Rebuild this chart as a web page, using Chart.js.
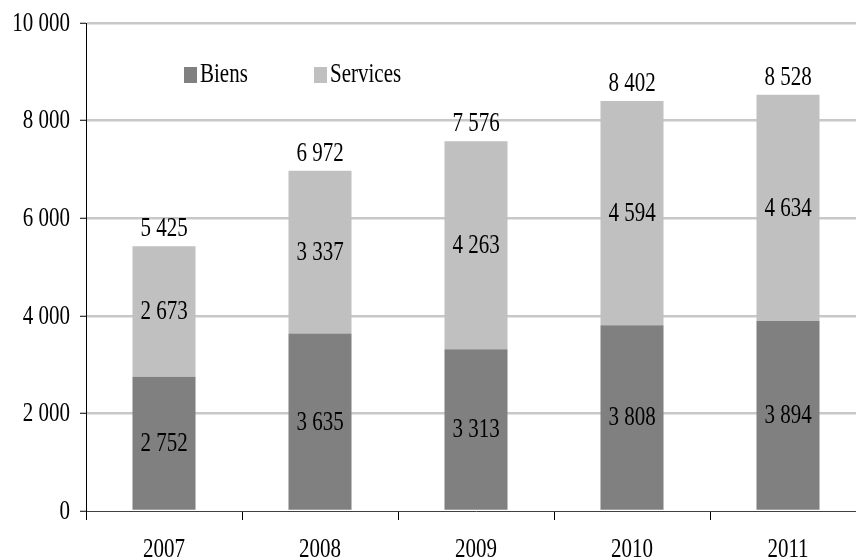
<!DOCTYPE html>
<html>
<head>
<meta charset="utf-8">
<script src="https://cdn.jsdelivr.net/npm/chart.js@4/dist/chart.umd.min.js"></script>
<style>
  html, body { margin: 0; padding: 0; background: #fff; overflow: hidden; }
  #wrap { width: 870px; height: 560px; }
</style>
</head>
<body>
<div id="wrap"><canvas id="chart" width="870" height="560"></canvas></div>
<script>
const years = ['2007', '2008', '2009', '2010', '2011'];
const biens = [2752, 3635, 3313, 3808, 3894];
const services = [2673, 3337, 4263, 4594, 4634];
const totals = [5425, 6972, 7576, 8402, 8528];
const yTicks = [0, 2000, 4000, 6000, 8000, 10000];

const FONT = 'Liberation Serif, "Times New Roman", serif';
const SIZE = 21;
const STRETCH = 1.25; // the reference text is taller than it is wide

// "5425" -> "5 425"
const fmt = v => String(v).replace(/\B(?=(\d{3})+(?!\d))/g, ' ');

function drawText(ctx, text, x, y, align) {
  ctx.save();
  ctx.translate(x, y);
  ctx.scale(1, STRETCH);
  ctx.font = SIZE + 'px ' + FONT;
  ctx.fillStyle = '#000';
  ctx.textAlign = align || 'center';
  ctx.textBaseline = 'middle';
  ctx.fillText(text, 0, 0);
  ctx.restore();
}

// all texts: tick labels, values in the segments, totals, legend
const textPlugin = {
  id: 'texts',
  afterDatasetsDraw(chart) {
    const ctx = chart.ctx;
    const xs = chart.scales.x, ys = chart.scales.y;

    ys.ticks.forEach(t => drawText(ctx, fmt(t.value), ys.right - 16, ys.getPixelForValue(t.value) + 1, 'right'));
    years.forEach((yr, i) => drawText(ctx, yr, xs.getPixelForValue(i), 550, 'center'));

    chart.data.datasets.forEach((ds, i) => {
      chart.getDatasetMeta(i).data.forEach((bar, j) => {
        drawText(ctx, fmt(ds.data[j]), bar.x, (bar.y + bar.base) / 2 + 1);
      });
    });
    const top = chart.getDatasetMeta(chart.data.datasets.length - 1).data;
    top.forEach((bar, j) => drawText(ctx, fmt(totals[j]), bar.x, bar.y - 17));

    // legend inside the plot area
    let x = 184;
    const y = 75;
    chart.data.datasets.forEach(ds => {
      ctx.fillStyle = ds.backgroundColor;
      ctx.fillRect(x, y - 8, 13, 16);
      drawText(ctx, ds.label, x + 16, y, 'left');
      x += 130;
    });
  }
};

new Chart(document.getElementById('chart'), {
  type: 'bar',
  data: {
    labels: years,
    datasets: [
      { label: 'Biens', data: biens, backgroundColor: '#808080' },
      { label: 'Services', data: services, backgroundColor: '#c0c0c0' }
    ]
  },
  options: {
    responsive: false,
    animation: false,
    events: [],
    layout: { padding: { left: 12, top: 23, right: 4, bottom: 0 } },
    plugins: {
      legend: { display: false },
      tooltip: { enabled: false }
    },
    datasets: {
      bar: { categoryPercentage: 1, barPercentage: 0.404 }
    },
    scales: {
      x: {
        stacked: true,
        offset: true,
        afterFit: axis => { axis.height = 49; },
        grid: {
          display: true,
          drawOnChartArea: false,
          tickLength: 9,
          offset: true,
          color: '#000'
        },
        border: { display: true, color: '#404040', width: 1 },
        ticks: { color: 'rgba(0,0,0,0)', font: { family: FONT, size: SIZE } }
      },
      y: {
        stacked: true,
        min: 0,
        max: 10000,
        afterBuildTicks: axis => { axis.ticks = yTicks.map(v => ({ value: v })); },
        afterFit: axis => { axis.width = 74; },
        grid: {
          color: c => (c.tick && c.tick.value === 0) ? 'rgba(0,0,0,0)' : '#c8c8c8',
          lineWidth: 2.5,
          tickColor: '#000',
          tickLength: 6,
          tickWidth: 1
        },
        border: { display: true, color: '#000', width: 1 },
        ticks: { color: 'rgba(0,0,0,0)', padding: 10, font: { family: FONT, size: SIZE }, callback: v => fmt(v) }
      }
    }
  },
  plugins: [textPlugin]
});
</script>
</body>
</html>
